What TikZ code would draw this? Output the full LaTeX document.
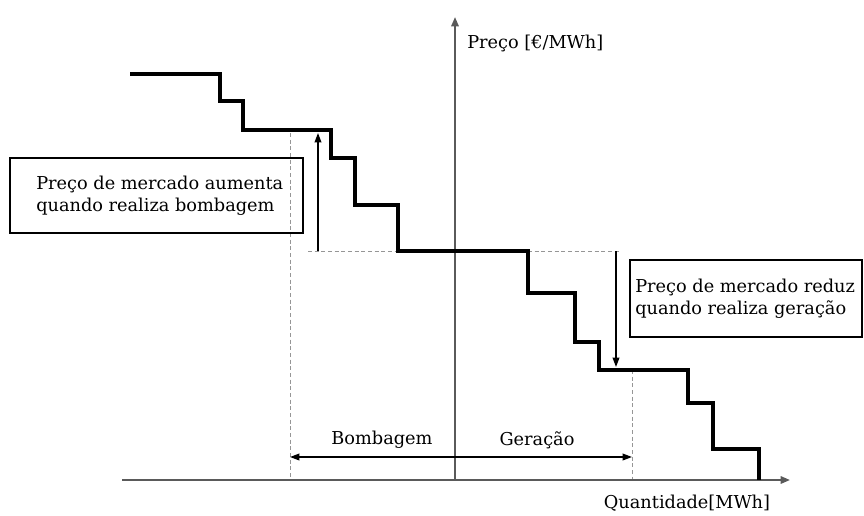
\documentclass[tikz,border=0pt]{standalone}
\usepackage{fontspec}
\setmainfont{DejaVu Serif}
\usetikzlibrary{arrows.meta}

\tikzset{
  curva/.style={line width=2.8pt, line join=miter},
  eixo/.style={line width=1.5pt, draw={rgb,255:red,90;green,90;blue,90}, -{Triangle[length=7pt,width=5.5pt]}},
  seta/.style={line width=1.1pt, -{Triangle[length=7pt,width=5pt]}},
  tracejado/.style={densely dashed, line width=0.6pt, draw={rgb,255:red,150;green,150;blue,150}},
  caixa/.style={line width=1.1pt},
  texto/.style={inner sep=0.75pt, font=\fontsize{13.3pt}{16.5pt}\selectfont}
}

\begin{document}
\begin{tikzpicture}[x=0.75pt,y=0.75pt,yscale=-1,xscale=1]
\path (0,0) rectangle (864,515);

% Coordinates
\coordinate (origem) at (455,480);
\coordinate (fimx) at (790,480);
\coordinate (fimy) at (455,17);
\coordinate (bomb) at (290,457);
\coordinate (ger) at (632,457);
\coordinate (meio) at (455,457);
\coordinate (subA) at (318,251);
\coordinate (subB) at (318,133);
\coordinate (desA) at (616,251);
\coordinate (desB) at (616,367);

%Dashed Lines
\draw [tracejado] (290,133) -- (290,480) ;
\draw [tracejado] (308,251) -- (398,251) ;
\draw [tracejado] (528,251) -- (621,251) ;
\draw [tracejado] (632,370) -- (632,480) ;

%Axes
\draw [eixo] (122,480) -- (fimx) ;
\draw [eixo] (origem) -- (fimy) ;

%Step curve
\draw [curva] (130,74) -| (220,101) -| (243,130) -| (331,158) -| (355,205) -| (398,251)
  -| (528,293) -| (575,342) -| (599,370) -| (688,403) -| (713,449) -| (759,480) ;

%Straight Lines
\draw [seta] (subA) -- (subB) ;
\draw [seta] (desA) -- (desB) ;
\draw [seta] (meio) -- (bomb) ;
\draw [seta] (meio) -- (ger) ;

%Shape: Rectangle
\draw [caixa] (10,158) rectangle (303,233) ;
\draw [caixa] (630,260) rectangle (862,337) ;

% Text Node
\draw (35,195.5) node [anchor=west] [texto] [align=left] (txtbomb) {Preço de mercado aumenta\\quando realiza bombagem};
% Text Node
\draw (634,298.5) node [anchor=west] [texto] [align=left] (txtger) {Preço de mercado reduz\\quando realiza geração};
% Text Node
\draw (382,440) node [texto] (lblbomb) {Bombagem};
% Text Node
\draw (537,440) node [texto] (lblger) {Geração};
% Text Node
\draw (687,503) node [texto] (lblx) {Quantidade[MWh]};
% Text Node
\draw (466,43) node [anchor=west] [texto] (lbly) {Preço [€/MWh]};

\end{tikzpicture}
\end{document}
